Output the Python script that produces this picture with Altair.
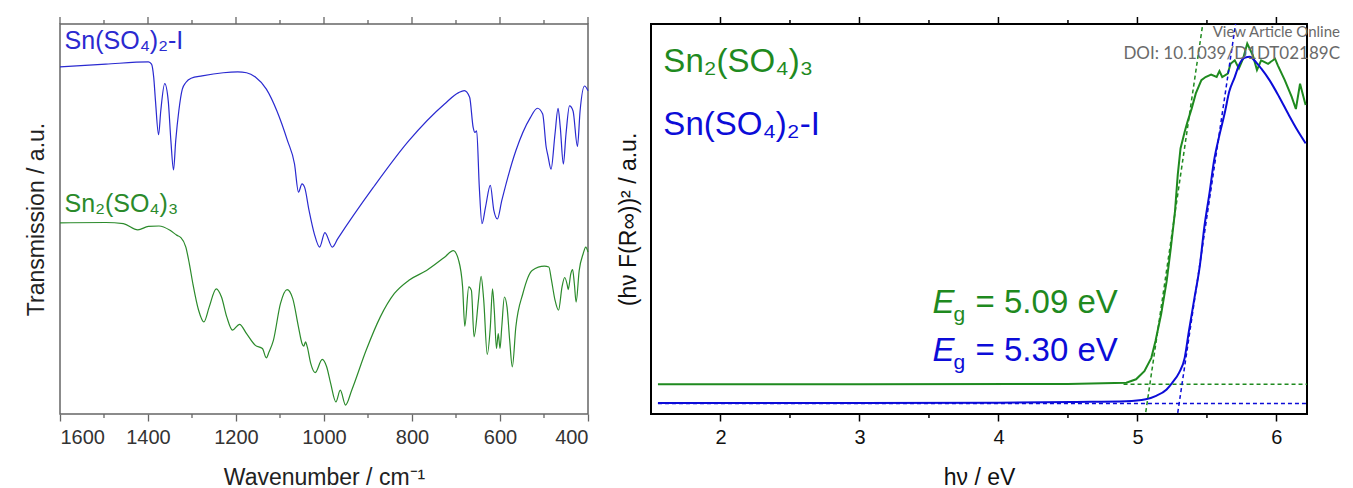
import altair as alt
import pandas as pd

FONT = "Liberation Sans"

# ---------------- IR spectra (left panel) ----------------
blue_ir_wn = [1600, 1496, 1399, 1392, 1387, 1383, 1376, 1371, 1362, 1354, 1348, 1342, 1337, 1330, 1322, 1314,
              1302, 1277, 1229, 1196, 1176, 1156, 1131, 1107, 1083, 1067, 1058, 1050, 1044, 1034, 1022, 1010,
              998, 981, 969, 888, 807, 726, 694, 681, 669, 661, 657, 653, 647, 641, 633, 622, 614, 606, 596,
              564, 531, 515, 503, 495, 491, 484, 475, 468, 463, 456, 450, 442, 434, 424, 418, 408, 400]
blue_ir_t = [89.0, 89.7, 90.3, 89.7, 86.3, 80.3, 71.6, 77.7, 84.7, 80.3, 70.1, 62.6, 70.1, 77.7, 83.3, 85.0,
             86.1, 86.7, 87.5, 87.7, 87.5, 86.4, 83.3, 77.7, 70.1, 64.1, 56.9, 59.0, 58.1, 52.2, 46.2, 42.8,
             46.5, 42.8, 44.9, 58.1, 70.1, 79.5, 82.4, 82.9, 81.2, 73.5, 72.2, 72.6, 58.1, 48.8, 53.0, 58.6,
             52.2, 50.0, 54.7, 67.5, 76.0, 78.4, 76.9, 68.4, 66.2, 62.8, 71.8, 78.4, 73.5, 64.1, 71.8, 79.0,
             77.7, 68.6, 77.7, 84.1, 82.9]

green_ir_wn = [1600, 1496, 1456, 1423, 1399, 1375, 1350, 1334, 1326, 1314, 1306, 1298, 1285, 1273, 1261, 1245,
               1233, 1221, 1208, 1192, 1176, 1156, 1140, 1131, 1125, 1115, 1099, 1084, 1071, 1058, 1050, 1046,
               1042, 1038, 1030, 1020, 1004, 994, 985, 973, 963, 951, 937, 904, 872, 840, 807, 767, 726, 706,
               694, 685, 680, 671, 665, 659, 649, 643, 637, 629, 622, 617, 613, 608, 604, 600, 596, 590, 584,
               578, 572, 564, 548, 527, 499, 489, 483, 475, 467, 459, 453, 447, 445, 439, 435, 431, 427, 420,
               411, 405, 400]
green_ir_t = [49.0, 49.1, 48.8, 47.2, 48.1, 48.2, 47.1, 45.8, 45.3, 42.8, 38.5, 33.4, 26.6, 23.6, 27.4, 32.1,
              30.0, 24.9, 21.5, 23.0, 20.6, 17.6, 16.8, 14.4, 15.9, 18.9, 28.3, 31.9, 29.6, 22.3, 18.1, 17.4,
              18.5, 17.2, 12.9, 10.6, 14.0, 12.1, 7.9, 3.1, 6.1, 2.3, 6.1, 16.4, 24.9, 30.9, 34.3, 36.8, 40.2,
              41.9, 39.4, 32.6, 22.5, 32.6, 31.7, 19.8, 29.2, 35.3, 29.2, 15.3, 22.3, 32.1, 26.6, 16.8, 20.6,
              16.8, 22.3, 30.0, 27.4, 18.9, 12.1, 22.3, 30.9, 36.8, 37.9, 37.7, 34.3, 29.2, 26.6, 32.6, 35.0,
              33.0, 31.9, 36.0, 37.0, 33.4, 28.7, 36.8, 41.1, 42.8, 41.5]

ir_major_ticks = [400, 600, 800, 1000, 1200, 1400, 1600]
ir_minor_ticks = [500, 700, 900, 1100, 1300, 1500]
ir_label_wn = [1589.5, 1589.5]
ir_label_t = [93.5, 51.7]
ir_label_text = ["Sn(SO₄)₂-I", "Sn₂(SO₄)₃"]

# ---------------- Tauc plot (right panel) ----------------
green_uv_e = [1.55, 3.0, 4.5, 4.92, 4.99, 5.05, 5.10, 5.13, 5.17, 5.21, 5.24, 5.27, 5.29, 5.31, 5.34, 5.36,
              5.39, 5.42, 5.46, 5.49, 5.53, 5.57, 5.59, 5.61, 5.65, 5.67, 5.70, 5.73, 5.76, 5.79, 5.83, 5.86,
              5.89, 5.94, 5.99, 6.01, 6.06, 6.11, 6.14, 6.17, 6.21]
green_uv_f = [7.6, 7.6, 7.7, 8.0, 8.9, 11.0, 14.4, 18.7, 25.5, 34.0, 42.5, 51.9, 61.3, 68.1, 72.4, 74.9,
              78.3, 82.2, 85.6, 86.4, 87.0, 86.4, 87.9, 86.4, 87.3, 89.8, 90.7, 88.6, 91.1, 95.0, 92.0, 88.2,
              90.7, 89.8, 91.1, 89.4, 85.6, 81.3, 78.2, 84.7, 79.2]

blue_uv_e = [1.55, 3.0, 4.0, 4.56, 4.92, 5.06, 5.13, 5.21, 5.25, 5.30, 5.34, 5.37, 5.41, 5.45, 5.48, 5.52,
             5.55, 5.59, 5.63, 5.66, 5.70, 5.73, 5.77, 5.81, 5.84, 5.89, 5.95, 6.02, 6.09, 6.15, 6.21]
blue_uv_f = [2.8, 2.8, 2.9, 3.1, 3.3, 3.8, 4.6, 6.3, 8.0, 10.6, 14.4, 21.2, 29.7, 38.3, 47.6, 57.0,
             64.7, 71.5, 77.5, 82.6, 86.4, 89.4, 91.3, 91.6, 90.7, 88.6, 85.6, 81.3, 76.6, 72.8, 69.4]

# dashed fit lines: tangent and baseline for each compound
fit_group = ["g_tan", "g_tan", "g_base", "g_base", "b_tan", "b_tan", "b_base", "b_base"]
fit_e = [5.06, 5.47, 4.90, 6.22, 5.29, 5.706, 1.55, 6.22]
fit_f = [0.5, 100.0, 7.6, 7.6, 0.3, 100.0, 2.7, 2.7]
fit_series = ["green", "green", "green", "green", "blue", "blue", "blue", "blue"]

uv_major_ticks = [2, 3, 4, 5, 6]
uv_minor_ticks = [2.5, 3.5, 4.5, 5.5]
uv_label_e = [1.589, 1.589]
uv_label_f = [87.7, 71.6]
uv_label_text = ["Sn₂(SO₄)₃", "Sn(SO₄)₂-I"]
eg_e = [3.526, 3.526]
eg_f = [25.9, 13.6]
eg_value = ["= 5.09 eV", "= 5.30 eV"]
eg_series = ["green", "blue"]

watermark = ["View Article Online", "DOI: 10.1039/D1DT02189C"]

# ---------------- colours ----------------
IR_BLUE = "#2a2ad0"
IR_GREEN = "#2b8a2b"
UV_GREEN = "#1f8a1f"
UV_BLUE = "#0c0cd8"
series_scale = alt.Scale(domain=["green", "blue"], range=[UV_GREEN, UV_BLUE])

PW_L, PW_R, PH = 528, 656, 390

# ---------------- left panel ----------------
blue_ir = pd.DataFrame({"wn": blue_ir_wn, "t": blue_ir_t})
green_ir = pd.DataFrame({"wn": green_ir_wn, "t": green_ir_t})
ir_lab = pd.DataFrame({"wn": ir_label_wn, "t": ir_label_t, "txt": ir_label_text,
                       "c": [IR_BLUE, IR_GREEN]})
ir_major = pd.DataFrame({"wn": ir_major_ticks})
ir_minor = pd.DataFrame({"wn": ir_minor_ticks})

ir_x_scale = alt.Scale(domain=[400, 1600], reverse=True, nice=False, zero=False)
ir_y_scale = alt.Scale(domain=[0, 100], nice=False)

ir_bottom = alt.Axis(orient="bottom", values=ir_major_ticks, format="d",
                     tickSize=7, tickColor="#666", tickWidth=1.3, domain=False, grid=False,
                     labelFont=FONT, labelFontSize=20, labelColor="#333", labelPadding=6,
                     titleFont=FONT, titleFontSize=23, titleFontWeight="normal", titleColor="#222",
                     titlePadding=19)
ir_left = alt.Axis(orient="left", values=[], ticks=False, domain=False, grid=False,
                   titleFont=FONT, titleFontSize=23, titleFontWeight="normal", titleColor="#222",
                   titlePadding=12)
IR_XT = "Wavenumber / cm⁻¹"
IR_YT = "Transmission / a.u."


def ir_x(field="wn"):
    return alt.X(f"{field}:Q", scale=ir_x_scale, axis=ir_bottom, title=IR_XT)


def ir_y(field="t"):
    return alt.Y(f"{field}:Q", scale=ir_y_scale, axis=ir_left, title=IR_YT)


ir_blue_line = alt.Chart(blue_ir).mark_line(color=IR_BLUE, strokeWidth=1.2, interpolate="monotone").encode(
    x=ir_x(), y=ir_y())
ir_green_line = alt.Chart(green_ir).mark_line(color=IR_GREEN, strokeWidth=1.2, interpolate="monotone").encode(
    x=ir_x(), y=ir_y())
ir_text = alt.Chart(ir_lab).mark_text(font=FONT, fontSize=25, align="left", baseline="alphabetic").encode(
    x=ir_x(), y=ir_y(), text="txt:N", color=alt.Color("c:N", scale=None))


def tick_rules(df, xenc, color, width, y0, y1):
    return alt.Chart(df).mark_rule(color=color, strokeWidth=width).encode(
        x=xenc, y=alt.value(y0), y2=alt.value(y1))


ir_ticks = [
    tick_rules(ir_major, ir_x(), "#666", 1.3, 0, -7),
    tick_rules(ir_minor, ir_x(), "#666", 1.3, 0, -4),
    tick_rules(ir_minor, ir_x(), "#666", 1.3, PH, PH + 4),
]

left = alt.layer(ir_blue_line, ir_green_line, ir_text, *ir_ticks).properties(
    width=PW_L, height=PH, view=alt.ViewBackground(stroke="#666", strokeWidth=1.5))

# ---------------- right panel ----------------
green_uv = pd.DataFrame({"e": green_uv_e, "f": green_uv_f})
blue_uv = pd.DataFrame({"e": blue_uv_e, "f": blue_uv_f})
fits = pd.DataFrame({"e": fit_e, "f": fit_f, "g": fit_group, "s": fit_series})
uv_lab = pd.DataFrame({"e": uv_label_e, "f": uv_label_f, "txt": uv_label_text, "s": ["green", "blue"]})
eg = pd.DataFrame({"e": eg_e, "f": eg_f, "v": eg_value, "s": eg_series})
wm = pd.DataFrame({"txt": watermark, "row": [0, 1]})
uv_major = pd.DataFrame({"e": uv_major_ticks})
uv_minor = pd.DataFrame({"e": uv_minor_ticks})

uv_x_scale = alt.Scale(domain=[1.5, 6.22], nice=False, zero=False)
uv_y_scale = alt.Scale(domain=[0, 100], nice=False)

uv_bottom = alt.Axis(orient="bottom", values=uv_major_ticks, format="d",
                     tickSize=7, tickColor="#000", tickWidth=1.5, domain=False, grid=False,
                     labelFont=FONT, labelFontSize=20, labelColor="#111", labelPadding=6,
                     titleFont=FONT, titleFontSize=23, titleFontWeight="normal", titleColor="#111",
                     titlePadding=19)
uv_left = alt.Axis(orient="left", values=[], ticks=False, domain=False, grid=False,
                   titleFont=FONT, titleFontSize=23, titleFontWeight="normal", titleColor="#111",
                   titlePadding=11)
UV_XT = "hν / eV"
UV_YT = "(hν F(R∞))² / a.u."


def uv_x(field="e"):
    return alt.X(f"{field}:Q", scale=uv_x_scale, axis=uv_bottom, title=UV_XT)


def uv_y(field="f"):
    return alt.Y(f"{field}:Q", scale=uv_y_scale, axis=uv_left, title=UV_YT)


uv_green_line = alt.Chart(green_uv).mark_line(color=UV_GREEN, strokeWidth=2).encode(x=uv_x(), y=uv_y())
uv_blue_line = alt.Chart(blue_uv).mark_line(color=UV_BLUE, strokeWidth=2, interpolate="monotone").encode(
    x=uv_x(), y=uv_y())
uv_fits = alt.Chart(fits).mark_line(strokeWidth=1.5, strokeDash=[4, 3]).encode(
    x=uv_x(), y=uv_y(), detail="g:N",
    color=alt.Color("s:N", scale=series_scale, legend=None))
uv_text = alt.Chart(uv_lab).mark_text(font=FONT, fontSize=33, align="left", baseline="alphabetic").encode(
    x=uv_x(), y=uv_y(), text="txt:N",
    color=alt.Color("s:N", scale=series_scale, legend=None))
eg_E = alt.Chart(eg).mark_text(font=FONT, fontSize=33, fontStyle="italic", align="left",
                               baseline="alphabetic").encode(
    x=uv_x(), y=uv_y(), text=alt.value("E"),
    color=alt.Color("s:N", scale=series_scale, legend=None))
eg_g = alt.Chart(eg).mark_text(font=FONT, fontSize=21, align="left", baseline="alphabetic",
                               dx=21, dy=8).encode(
    x=uv_x(), y=uv_y(), text=alt.value("g"),
    color=alt.Color("s:N", scale=series_scale, legend=None))
eg_v = alt.Chart(eg).mark_text(font=FONT, fontSize=33, align="left", baseline="alphabetic",
                               dx=43).encode(
    x=uv_x(), y=uv_y(), text="v:N",
    color=alt.Color("s:N", scale=series_scale, legend=None))
wm1 = alt.Chart(wm).transform_filter("datum.row === 0").mark_text(
    font="Lato", fontSize=15, align="right", baseline="alphabetic", color="#6a6a6a").encode(
    x=alt.value(689), y=alt.value(12.5), text="txt:N")
wm2 = alt.Chart(wm).transform_filter("datum.row === 1").mark_text(
    font="Lato", fontSize=17, align="right", baseline="alphabetic", color="#6a6a6a").encode(
    x=alt.value(689), y=alt.value(34.8), text="txt:N")

uv_ticks = [
    tick_rules(uv_major, uv_x(), "#000", 1.5, 0, -7),
    tick_rules(uv_minor, uv_x(), "#000", 1.5, 0, -4),
    tick_rules(uv_minor, uv_x(), "#000", 1.5, PH, PH + 4),
]

right = alt.layer(uv_green_line, uv_blue_line, uv_fits, uv_text, eg_E, eg_g, eg_v, wm1, wm2,
                  *uv_ticks).properties(
    width=PW_R, height=PH, view=alt.ViewBackground(stroke="#000", strokeWidth=2))

chart = alt.hconcat(left, right, spacing=24).properties(
    padding={"left": 16, "top": 7, "right": 0, "bottom": 0}
).configure(font=FONT)

chart.save("out.html", embed_options={"renderer": "svg", "actions": False})
